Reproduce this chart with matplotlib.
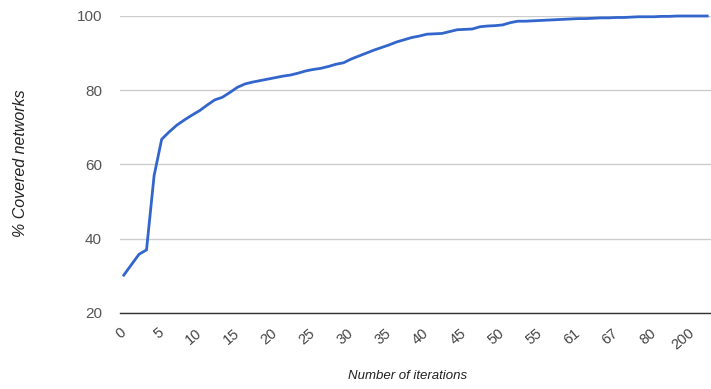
import matplotlib
matplotlib.use("Agg")
import matplotlib.pyplot as plt

plt.rcParams['font.family'] = ['Liberation Sans', 'DejaVu Sans']

# category labels on the x axis (iterations)
iterations = list(range(0, 60)) + [61, 62, 63, 64, 66, 67, 69, 71, 73, 76, 80,
                                   90, 100, 120, 150, 200, 250, 300]
# % covered networks per category
covered = [30.2, 33.0, 35.8, 37.0, 57.0, 66.8, 68.8, 70.6, 72.0, 73.3,
           74.5, 76.0, 77.4, 78.1, 79.4, 80.8, 81.7, 82.2, 82.6, 83.0,
           83.4, 83.8, 84.1, 84.6, 85.2, 85.6, 85.9, 86.4, 87.0, 87.4,
           88.4, 89.2, 90.0, 90.8, 91.5, 92.2, 93.0, 93.6, 94.2, 94.6,
           95.1, 95.2, 95.3, 95.8, 96.3, 96.4, 96.5, 97.1, 97.3, 97.4,
           97.6, 98.2, 98.6, 98.6, 98.7, 98.8, 98.9, 99.0, 99.1, 99.2,
           99.3, 99.3, 99.4, 99.5, 99.5, 99.6, 99.6, 99.7, 99.8, 99.8,
           99.8, 99.9, 99.9, 100, 100, 100, 100, 100]
yticks = [20, 40, 60, 80, 100]

fig = plt.figure(figsize=(7.11, 3.89), dpi=100)
ax = fig.add_axes([120/711, 1-313/389, 591/711, 297/389])

pos = list(range(len(iterations)))
ax.plot(pos, covered, color='#3366cc', lw=2, solid_joinstyle='round', clip_on=False)

ax.set_xlim(-0.5, len(iterations)-0.5)
ax.set_ylim(20, 100)
ax.set_yticks(yticks)
ax.set_yticklabels([str(v) for v in yticks], fontsize=11, color='#555555')
ax.set_xticks(pos[::5])
ax.set_xticklabels([str(iterations[i]) for i in pos[::5]], fontsize=10.5,
                   color='#444444', rotation=40, ha='right', va='center',
                   rotation_mode='anchor')
ax.tick_params(axis='y', length=0, pad=13)
ax.tick_params(axis='x', length=0, pad=13)
ax.grid(axis='y', color='#cccccc', lw=1)
ax.set_axisbelow(True)
for s in ['top', 'right', 'left']:
    ax.spines[s].set_visible(False)
ax.spines['bottom'].set_color('#333333')
ax.spines['bottom'].set_linewidth(1)

fig.text(21/711, 1-163/389, '% Covered networks', rotation=90, style='italic',
         fontsize=11.5, color='#222222', ha='center', va='center')
fig.text(408/711, 1-376/389, 'Number of iterations', style='italic',
         fontsize=9.5, color='#222222', ha='center', va='center')

fig.savefig('out.png', dpi=100)
